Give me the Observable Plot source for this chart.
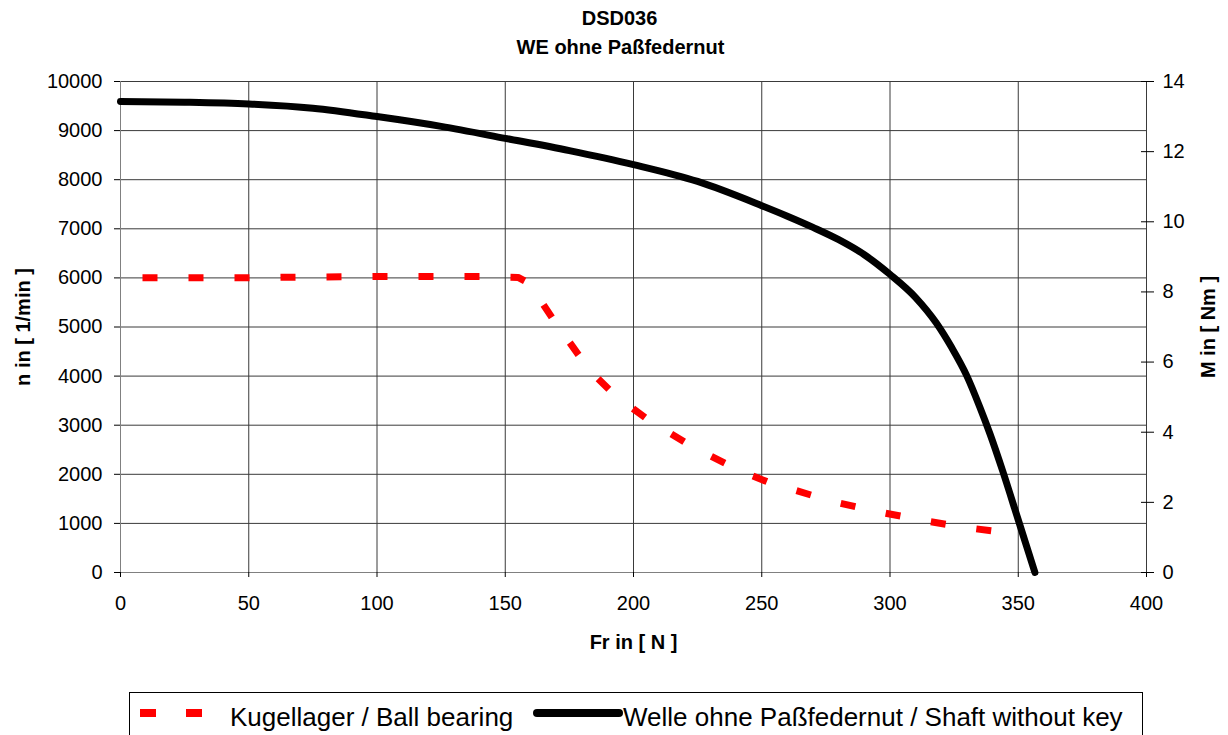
<!DOCTYPE html>
<html><head><meta charset="utf-8">
<script src="https://cdn.jsdelivr.net/npm/d3@7"></script>
<script src="https://cdn.jsdelivr.net/npm/@observablehq/plot@0.6"></script>
<style>
html,body{margin:0;padding:0;background:#fff;overflow:hidden;}
#wrap{position:relative;width:1228px;height:735px;font-family:"Liberation Sans",Arial,sans-serif;color:#000;}
#chart{position:absolute;left:0;top:0;}
#legend{position:absolute;left:129px;top:692px;width:1014px;height:60px;border:1px solid #000;box-sizing:border-box;background:#fff;}
.sw{position:absolute;}
.lt{position:absolute;top:11px;font-size:26px;line-height:26px;white-space:nowrap;}
</style></head>
<body><div id="wrap"><div id="chart"></div><div id="legend"></div></div>
<script>
// ---- data ----
const ballF = [0, 50, 100, 140, 155, 159, 163, 169, 176, 183, 193, 206, 224, 242, 253, 271, 279, 297, 315, 329, 350];
const ballN = [6000, 6005, 6030, 6030, 6010, 5900, 5600, 5130, 4620, 4110, 3600, 3100, 2530, 2060, 1830, 1550, 1430, 1220, 1040, 920, 780];
const shaftF = [0, 25, 50, 75, 100, 125, 150, 175, 200, 225, 250, 260, 270, 280, 290, 300, 310, 318, 324, 330, 335, 339, 344, 350, 356.5];
const shaftM = [13.43, 13.41, 13.36, 13.24, 13.0, 12.72, 12.38, 12.03, 11.63, 11.15, 10.46, 10.16, 9.84, 9.49, 9.06, 8.5, 7.84, 7.12, 6.42, 5.6, 4.72, 3.95, 2.88, 1.5, 0];
const xTicks = [0, 50, 100, 150, 200, 250, 300, 350, 400];
const nTicks = [0, 1000, 2000, 3000, 4000, 5000, 6000, 7000, 8000, 9000, 10000];
const mTicks = [0, 2, 4, 6, 8, 10, 12, 14];
const seriesNames = ["Kugellager / Ball bearing", "Welle ohne Paßfedernut / Shaft without key"];
const titleLines = ["DSD036", "WE ohne Paßfedernut"];
const xLabel = "Fr in [ N ]";
const nLabel = "n in [ 1/min ]";
const mLabel = "M in [ Nm ]";
const nMax = 10000, mMax = 14;
const toN = m => m * nMax / mMax;

const ballRows = ballF.map((f, i) => ({f, n: ballN[i]}));
const shaftRows = shaftF.map((f, i) => ({f, m: shaftM[i]}));
const FONT = "Liberation Sans, Arial, sans-serif";

const chart = Plot.plot({
  width: 1228, height: 690,
  marginTop: 81, marginBottom: 118, marginLeft: 120, marginRight: 82,
  style: {fontFamily: FONT, fontSize: "20px", color: "#000", background: "transparent", overflow: "visible"},
  x: {domain: [0, 400]},
  y: {domain: [0, nMax]},
  marks: [
    Plot.gridX(xTicks, {stroke: "#3a3a3a", strokeOpacity: 1}),
    Plot.gridY(nTicks, {stroke: "#3a3a3a", strokeOpacity: 1}),
    Plot.ruleX([0], {stroke: "#808080"}),
    Plot.ruleY([0], {stroke: "#808080"}),
    Plot.axisX(xTicks, {anchor: "bottom", tickSize: 5, tickPadding: 18, label: null, fontSize: 20, fontFamily: FONT, tickFormat: d => String(d)}),
    Plot.axisY(nTicks, {anchor: "left", tickSize: 6, tickPadding: 12, label: null, fontSize: 20, fontFamily: FONT, tickFormat: d => String(d)}),
    Plot.axisY(mTicks.map(toN), {anchor: "right", tickSize: 13, dx: -6, tickPadding: 9, label: null, fontSize: 20, fontFamily: FONT,
      tickFormat: d => String(Math.round(d * mMax / nMax))}),
    Plot.text([titleLines[0]], {frameAnchor: "top", dx: -14, dy: -63, lineAnchor: "middle", fontSize: 20, fontWeight: "bold", fontFamily: FONT}),
    Plot.text([titleLines[1]], {frameAnchor: "top", dx: -13, dy: -34, lineAnchor: "middle", fontSize: 20, fontWeight: "bold", fontFamily: FONT}),
    Plot.text([xLabel], {frameAnchor: "bottom", dy: 70, lineAnchor: "middle", fontSize: 20, fontWeight: "bold", fontFamily: FONT}),
    Plot.text([nLabel], {frameAnchor: "left", dx: -97, rotate: -90, lineAnchor: "middle", textAnchor: "middle", fontSize: 20, fontWeight: "bold", fontFamily: FONT}),
    Plot.text([mLabel], {frameAnchor: "right", dx: 62, rotate: -90, lineAnchor: "middle", textAnchor: "middle", fontSize: 20, fontWeight: "bold", fontFamily: FONT}),
    Plot.line(ballRows, {x: "f", y: "n", stroke: "#ff0000", strokeWidth: 7, strokeDasharray: "15,31", strokeDashoffset: 24, strokeLinecap: "butt", strokeLinejoin: "miter"}),
    Plot.line(shaftRows, {x: "f", y: d => toN(d.m), stroke: "#000", strokeWidth: 7, strokeLinecap: "round", strokeLinejoin: "round", curve: "monotone-x"})
  ]
});
document.getElementById("chart").appendChild(chart);

// ---- legend ----
const lg = document.getElementById("legend");
lg.innerHTML =
  `<div class="sw" style="left:10px;top:16px;width:16px;height:8px;background:#ff0000"></div>` +
  `<div class="sw" style="left:56px;top:16px;width:16px;height:8px;background:#ff0000"></div>` +
  `<div class="lt" style="left:100px">${seriesNames[0]}</div>` +
  `<div class="sw" style="left:403px;top:16px;width:90px;height:8px;background:#000;border-radius:4px"></div>` +
  `<div class="lt" style="left:493px">${seriesNames[1]}</div>`;
</script>
</body></html>
